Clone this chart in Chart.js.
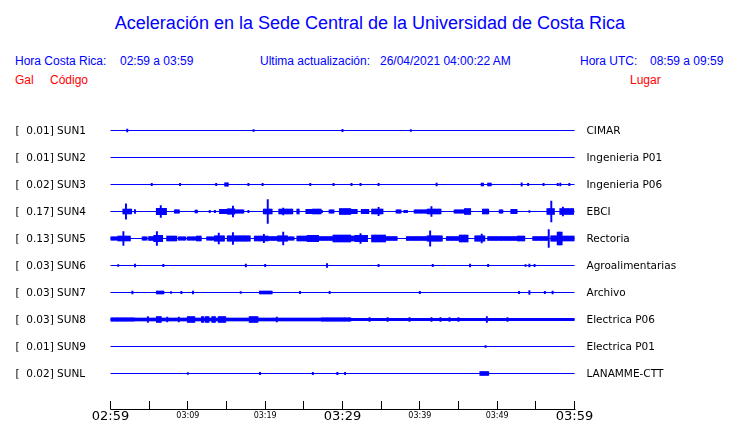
<!DOCTYPE html>
<html lang="es">
<head>
<meta charset="UTF-8">
<script src="https://cdn.jsdelivr.net/npm/chart.js"></script>
<style>
    body { margin: 0; background: #fff; font-family: "Liberation Sans", Arial, sans-serif; }
    .wrap { position: relative; width: 740px; height: 423px; }
    canvas { position: absolute; left: 0; top: 0; }
    .t { position: absolute; font-size: 12px; line-height: 12px; color: #0000ff; white-space: pre; }
    .red { color: #ff0000; }
    #title { position: absolute; left: 0; width: 740px; top: 14px; text-align: center;
             font-size: 18px; line-height: 18px; color: #0000ff; }
</style>
</head>
<body>
<div class="wrap">
    <div id="title">Aceleración en la Sede Central de la Universidad de Costa Rica</div>
    <div class="t" style="left:15px; top:55px;">Hora Costa Rica:</div>
    <div class="t" style="left:120px; top:55px;">02:59 a 03:59</div>
    <div class="t" style="left:260px; top:55px;">Ultima actualización:</div>
    <div class="t" style="left:380px; top:55px;">26/04/2021 04:00:22 AM</div>
    <div class="t" style="left:580px; top:55px;">Hora UTC:</div>
    <div class="t" style="left:650px; top:55px;">08:59 a 09:59</div>
    <div class="t red" style="left:15px; top:74px;">Gal</div>
    <div class="t red" style="left:50px; top:74px;">Código</div>
    <div class="t red" style="left:630px; top:74px;">Lugar</div>
    <canvas id="helicorder" width="740" height="423"></canvas>
</div>
<script>
    // stations, top to bottom
    const stations = ['SUN1', 'SUN2', 'SUN3', 'SUN4', 'SUN5', 'SUN6', 'SUN7', 'SUN8', 'SUN9', 'SUNL'];
    const peakGal = ['0.01', '0.01', '0.02', '0.17', '0.13', '0.03', '0.03', '0.03', '0.01', '0.02'];
    const places = ['CIMAR', 'Ingenieria P01', 'Ingenieria P06', 'EBCI', 'Rectoria', 'Agroalimentarias',
                    'Archivo', 'Electrica P06', 'Electrica P01', 'LANAMME-CTT'];
    const timeLabels = ['02:59', '03:09', '03:19', '03:29', '03:39', '03:49', '03:59'];

    // bursts: [start minute, end minute, half amplitude] (1 = spacing between traces)
    const sun1Bursts = [[2.1, 2.1, 0.05], [18.5, 18.5, 0.03], [30.0, 30.0, 0.04], [38.8, 38.8, 0.03]];
    const sun2Bursts = [];
    const sun3Bursts = [[5.4, 5.4, 0.04], [9.0, 9.0, 0.045], [13.7, 13.7, 0.045], [14.9, 15.2, 0.065],
        [17.8, 17.8, 0.04], [19.6, 19.6, 0.04], [25.8, 25.8, 0.04], [28.8, 28.8, 0.04], [31.2, 31.2, 0.04],
        [32.3, 32.3, 0.04], [34.6, 34.6, 0.04], [42.2, 42.2, 0.05], [48.0, 48.2, 0.05], [48.9, 49.1, 0.05],
        [53.15, 53.15, 0.065], [54.0, 54.0, 0.045], [56.0, 56.0, 0.04], [57.8, 57.8, 0.04], [58.2, 58.2, 0.05],
        [59.4, 59.4, 0.045]];
    const sun4Bursts = [[1.68, 2.6, 0.09], [2.07, 2.07, 0.28], [3.1, 3.1, 0.07], [6.07, 7.1, 0.12],
        [6.45, 6.45, 0.22], [8.26, 8.91, 0.065], [10.97, 11.23, 0.05], [12.9, 12.9, 0.04], [13.56, 13.56, 0.04],
        [14.2, 15.1, 0.08], [15.1, 16.0, 0.1], [15.75, 15.75, 0.2], [16.0, 17.17, 0.065], [17.82, 17.82, 0.04],
        [19.9, 20.9, 0.09], [20.27, 20.27, 0.44], [21.8, 23.5, 0.09], [22.33, 22.33, 0.13], [24.14, 24.4, 0.09],
        [25.3, 26.21, 0.08], [26.21, 27.11, 0.09], [27.4, 27.4, 0.04], [28.4, 28.79, 0.065], [29.69, 30.98, 0.11],
        [30.98, 31.89, 0.08], [32.53, 33.31, 0.08], [33.82, 35.24, 0.09], [34.6, 34.6, 0.15], [37.05, 37.44, 0.065],
        [38.08, 38.34, 0.04], [39.25, 41.05, 0.065], [41.05, 42.6, 0.09], [41.44, 41.44, 0.185], [44.54, 45.83, 0.065],
        [45.83, 46.48, 0.11], [48.15, 48.8, 0.09], [50.35, 50.74, 0.065], [51.9, 52.54, 0.08], [54.22, 54.22, 0.03],
        [56.42, 57.32, 0.11], [56.93, 56.93, 0.39], [58.22, 59.77, 0.11], [58.48, 58.48, 0.167]];
    const sun5Bursts = [[0, 0.9, 0.06], [1.03, 2.58, 0.09], [1.68, 1.68, 0.26], [4.13, 4.65, 0.06],
        [5.03, 5.68, 0.075], [5.68, 6.71, 0.12], [6.07, 6.07, 0.26], [7.36, 8.52, 0.09], [8.78, 9.68, 0.06],
        [9.94, 11.23, 0.06], [11.23, 11.62, 0.09], [12.52, 13.56, 0.06], [13.56, 14.59, 0.1], [13.94, 13.94, 0.2],
        [15.1, 16.14, 0.1], [15.75, 15.75, 0.22], [16.14, 18.07, 0.1], [18.59, 20.4, 0.09], [19.88, 19.88, 0.15],
        [20.4, 21.69, 0.075], [21.69, 22.85, 0.1], [22.33, 22.33, 0.24], [22.98, 23.63, 0.06], [24.14, 25.43, 0.09],
        [25.43, 26.85, 0.12], [26.85, 28.79, 0.075], [28.79, 30.98, 0.13], [30.98, 31.63, 0.09], [31.63, 33.18, 0.12],
        [32.4, 32.4, 0.185], [33.82, 35.5, 0.13], [35.5, 37.05, 0.075], [38.34, 40.93, 0.075], [40.93, 42.86, 0.1],
        [41.31, 41.31, 0.28], [43.51, 45.18, 0.075], [45.18, 46.09, 0.13], [47.12, 48.41, 0.1], [48.03, 48.03, 0.167],
        [48.8, 52.54, 0.075], [52.67, 53.58, 0.09], [54.61, 56.42, 0.075], [56.67, 56.67, 0.33], [57.06, 58.1, 0.1],
        [57.84, 58.35, 0.24], [58.35, 60, 0.09]];
    const sun6Bursts = [[1.03, 1.03, 0.03], [3.23, 3.23, 0.055], [6.84, 6.84, 0.04], [17.43, 17.43, 0.055],
        [20.0, 20.0, 0.04], [28.0, 28.0, 0.075], [34.7, 34.7, 0.04], [41.6, 41.6, 0.04], [46.5, 46.5, 0.055],
        [48.8, 48.8, 0.04], [53.6, 53.6, 0.03], [54.1, 54.1, 0.055], [54.9, 54.9, 0.04]];
    const sun7Bursts = [[2.8, 2.8, 0.055], [6.07, 6.84, 0.055], [7.75, 7.75, 0.03], [9.17, 9.17, 0.04],
        [10.59, 10.59, 0.055], [16.9, 16.9, 0.03], [19.4, 20.9, 0.055], [24.5, 24.5, 0.04], [28.4, 28.4, 0.04],
        [40.0, 40.0, 0.04], [52.8, 52.8, 0.04], [54.1, 54.1, 0.075], [56.2, 56.2, 0.04], [57.2, 57.2, 0.055]];
    const sun8Bursts = [[0, 3.0, 0.063], [3.2, 31.0, 0.056], [31.0, 60, 0.044], [4.78, 4.78, 0.11],
        [6.07, 6.45, 0.11], [7.36, 7.36, 0.093], [8.78, 8.78, 0.093], [9.94, 10.7, 0.11], [10.84, 10.84, 0.11],
        [11.75, 12.0, 0.11], [12.4, 12.65, 0.11], [13.16, 13.55, 0.11], [13.94, 14.85, 0.11], [18.07, 18.98, 0.11],
        [21.5, 21.5, 0.093], [27.37, 30.98, 0.063], [33.57, 33.57, 0.074], [35.76, 35.76, 0.074], [38.73, 38.73, 0.074],
        [41.57, 41.57, 0.074], [42.6, 42.6, 0.074], [43.9, 43.9, 0.074], [44.93, 44.93, 0.074], [48.67, 48.67, 0.11],
        [51.38, 51.38, 0.074]];
    const sun9Bursts = [[48.5, 48.5, 0.03]];
    const sunlBursts = [[10.07, 10.07, 0.03], [19.4, 19.4, 0.04], [26.2, 26.2, 0.04], [29.4, 29.4, 0.04],
        [30.3, 30.3, 0.04], [47.8, 48.8, 0.075]];
    const bursts = [sun1Bursts, sun2Bursts, sun3Bursts, sun4Bursts, sun5Bursts,
                    sun6Bursts, sun7Bursts, sun8Bursts, sun9Bursts, sunlBursts];

    // 10 second bins over the hour
    const binsPerMin = 6;
    const nBins = 60 * binsPerMin + 1;
    const bins = Array.from({ length: nBins }, (_, k) => k);

    const envelope = (list, row) => {
        const amp = new Array(nBins).fill(0);
        list.forEach(([t0, t1, a]) => {
            for (let k = Math.round(t0 * binsPerMin); k <= Math.round(t1 * binsPerMin); k++) {
                amp[k] = Math.max(amp[k], a);
            }
        });
        return amp.map(a => a > 0 ? [row - a, row + a] : null);
    };

    const datasets = [];
    stations.forEach((s, i) => {
        datasets.push({
            type: 'line',
            label: s,
            data: [{ x: 0, y: i }, { x: nBins - 1, y: i }],
            borderColor: '#0000ff',
            borderWidth: 1,
            pointRadius: 0
        });
        datasets.push({
            type: 'bar',
            label: s + ' burst',
            data: envelope(bursts[i], i),
            backgroundColor: '#0000ff',
            borderWidth: 0,
            grouped: false,
            barPercentage: 1,
            categoryPercentage: 1
        });
    });

    // horizontal time axis line under the tick marks
    const axisLine = {
        id: 'axisLine',
        afterDraw(chart) {
            const x = chart.scales.x;
            const ctx = chart.ctx;
            const y = Math.round(x.top + x.options.grid.tickLength) - 0.5;
            ctx.save();
            ctx.strokeStyle = '#000';
            ctx.lineWidth = 1;
            ctx.beginPath();
            ctx.moveTo(Math.round(x.left) - 0.5, y);
            ctx.lineTo(Math.round(x.right) + 0.5, y);
            ctx.stroke();
            ctx.restore();
        }
    };

    const rowTicks = (axis) => { axis.ticks = stations.map((s, i) => ({ value: i })); };
    const bigTick = (c) => c.tick && c.tick.value % 180 === 0;

    new Chart(document.getElementById('helicorder'), {
        type: 'bar',
        data: { labels: bins, datasets: datasets },
        plugins: [axisLine],
        options: {
            responsive: false,
            animation: false,
            layout: { padding: { left: 15.5, top: 103.5, right: 0, bottom: 0 } },
            plugins: { legend: { display: false }, tooltip: { enabled: false } },
            scales: {
                x: {
                    type: 'category',
                    offset: false,
                    afterFit: (ax) => { ax.height = 22.5; },
                    grid: { offset: false, drawOnChartArea: false, drawTicks: true, tickLength: 9, color: '#000' },
                    border: { display: false },
                    ticks: {
                        autoSkip: false,
                        maxRotation: 0,
                        padding: 0.5,
                        color: '#000',
                        font: (c) => bigTick(c)
                            ? { family: 'DejaVu Sans', size: 13, lineHeight: 1.0 }
                            : { family: 'DejaVu Sans', size: 8, lineHeight: 1.4 },
                        callback: (v, idx) => {
                            if (idx % 30 !== 0) return null;
                            return idx % 60 === 0 ? timeLabels[idx / 60] : '';
                        }
                    }
                },
                y: {
                    type: 'linear',
                    reverse: true,
                    min: -1,
                    max: 10,
                    afterBuildTicks: rowTicks,
                    afterFit: (ax) => { ax.width = 95; },
                    grid: { display: false, drawTicks: false },
                    border: { display: false },
                    ticks: {
                        crossAlign: 'far',
                        padding: 0,
                        labelOffset: 1,
                        color: '#000',
                        font: { family: 'DejaVu Sans', size: 10.5 },
                        callback: (v) => '[  ' + peakGal[v] + '] ' + stations[v]
                    }
                },
                y2: {
                    type: 'linear',
                    position: 'right',
                    reverse: true,
                    min: -1,
                    max: 10,
                    afterBuildTicks: rowTicks,
                    afterFit: (ax) => { ax.width = 165.5; },
                    grid: { display: false, drawTicks: false },
                    border: { display: false },
                    ticks: {
                        padding: 12,
                        labelOffset: 1,
                        color: '#000',
                        font: { family: 'DejaVu Sans', size: 10.5 },
                        callback: (v) => places[v]
                    }
                }
            }
        }
    });
</script>
</body>
</html>
